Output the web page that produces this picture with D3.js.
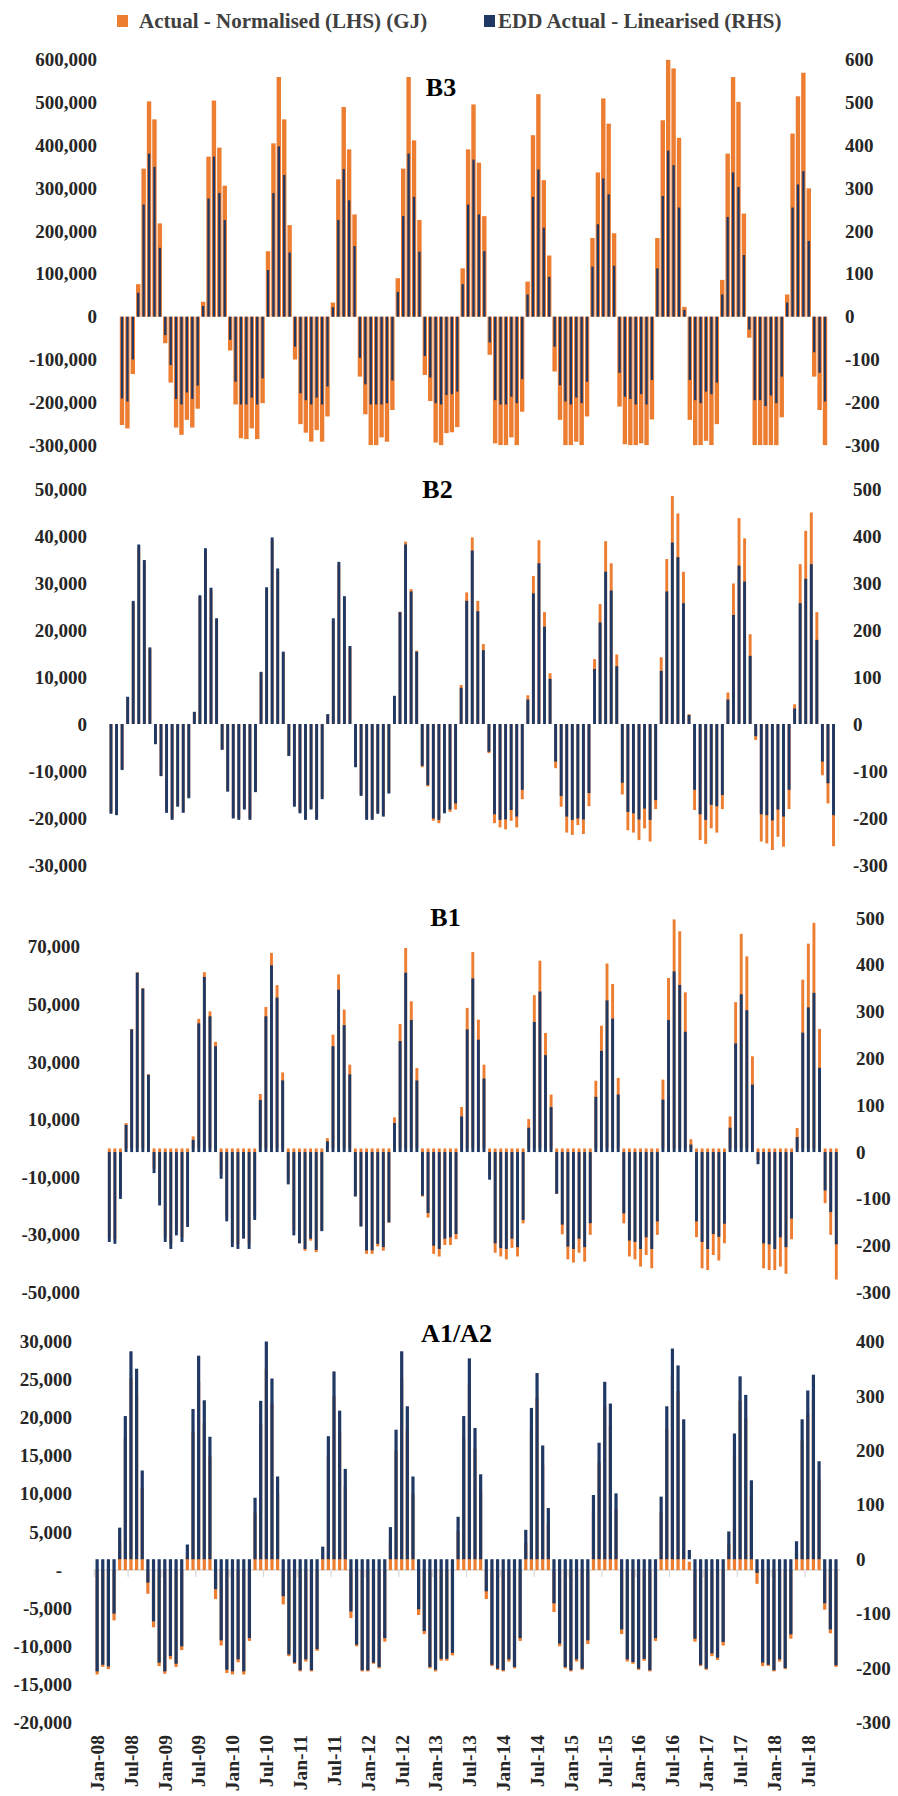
<!DOCTYPE html>
<html><head><meta charset="utf-8">
<script src="https://cdn.jsdelivr.net/npm/d3@7"></script>
<style>
body{margin:0;background:#fff}
svg text{font-family:"Liberation Serif","Times New Roman",serif;font-weight:bold}
</style>
</head><body>
<svg id="c" width="898" height="1796"></svg>
<script>
// ---------------- DATA ----------------
const seriesNames = ["Actual - Normalised (LHS) (GJ)", "EDD Actual - Linearised (RHS)"];
const panelTitles = ["B3", "B2", "B1", "A1/A2"];
const xTickLabels = ["Jan-08","Jul-08","Jan-09","Jul-09","Jan-10","Jul-10","Jan-11","Jul-11","Jan-12","Jul-12",
  "Jan-13","Jul-13","Jan-14","Jul-14","Jan-15","Jul-15","Jan-16","Jul-16","Jan-17","Jul-17","Jan-18","Jul-18"];

// B3 : Feb-08 .. Dec-18
const b3Navy = [
  -191,-198,-100,56,262,381,350,161,-43,-113,-192,
  -205,-177,-192,-161,25,276,374,289,226,-54,-152,-205,
  -205,-189,-205,-144,109,289,398,331,150,-70,-179,-195,
  -205,-189,-205,-163,22,226,345,272,165,-96,-158,-205,
  -205,-205,-202,-149,58,235,381,280,152,-92,-142,-202,
  -205,-183,-181,-175,76,262,367,239,153,-60,-195,-205,
  -205,-187,-202,-146,52,280,344,208,93,-70,-160,-198,
  -205,-189,-202,-152,117,216,323,286,119,-131,-187,-192,
  -205,-181,-205,-148,113,282,388,354,255,16,-148,-195,
  -202,-175,-181,-154,52,233,337,303,144,-30,-195,-195,
  -209,-184,-202,-140,33,255,309,340,177,-83,-131,-198];
const b3Orange = [
  -253000,-261000,-134000,76000,346000,503000,461000,218000,-62000,-154000,-259000,
  -276000,-241000,-259000,-215000,35000,374000,505000,395000,306000,-79000,-205000,-284000,
  -286000,-261000,-286000,-202000,153000,405000,560000,461000,214000,-100000,-251000,-271000,
  -292000,-265000,-292000,-233000,33000,321000,490000,391000,239000,-140000,-228000,-300000,
  -300000,-282000,-292000,-218000,90000,346000,560000,412000,226000,-136000,-197000,-294000,
  -300000,-272000,-270000,-258000,113000,391000,496000,360000,235000,-89000,-296000,-300000,
  -300000,-282000,-300000,-222000,82000,424000,520000,319000,143000,-128000,-241000,-300000,
  -300000,-292000,-300000,-233000,184000,337000,510000,451000,195000,-210000,-298000,-300000,
  -300000,-296000,-300000,-240000,184000,459000,600000,580000,418000,23000,-241000,-300000,
  -300000,-290000,-300000,-251000,86000,381000,560000,502000,241000,-49000,-300000,-300000,
  -300000,-300000,-300000,-235000,52000,428000,515000,570000,300000,-140000,-218000,-300000];

// B2 : Feb-08 .. Dec-18
const b2Navy = [
  -191,-194,-98,58,262,382,349,163,-43,-111,-189,
  -204,-176,-189,-158,26,274,374,290,225,-55,-144,-201,
  -204,-182,-204,-145,111,291,397,331,154,-68,-176,-190,
  -204,-182,-204,-160,21,225,345,272,166,-92,-153,-204,
  -204,-191,-197,-148,60,238,382,282,154,-89,-130,-201,
  -204,-190,-182,-169,77,262,369,240,157,-59,-192,-204,
  -203,-183,-197,-140,52,278,342,207,96,-80,-153,-197,
  -204,-201,-203,-147,117,216,324,284,123,-125,-187,-190,
  -203,-180,-204,-162,113,282,386,355,257,19,-140,-192,
  -204,-172,-175,-151,52,232,337,303,145,-26,-192,-194,
  -205,-182,-197,-140,33,257,309,340,179,-80,-126,-194];
const b2Orange = [
  -18800,-19000,-9600,5600,25800,37600,34400,16000,-4200,-10900,-18600,
  -20000,-17300,-18600,-15500,2500,27000,36800,28500,22100,-5400,-14200,-19800,
  -20000,-17900,-20000,-14300,10900,28600,39000,32500,15100,-6700,-17300,-18700,
  -20000,-17900,-20000,-15700,2000,22100,33900,26700,16300,-9000,-15000,-20000,
  -20000,-18800,-19300,-14500,5900,23900,38800,28700,15600,-9200,-13300,-20600,
  -21100,-18700,-18700,-18200,8300,28000,39700,26200,17000,-6200,-21100,-22000,
  -22400,-20600,-22000,-16000,6100,31500,39100,23800,10800,-9400,-17600,-23100,
  -23600,-21500,-23400,-17500,13800,25500,38900,34200,14800,-15000,-22600,-23100,
  -24700,-22200,-25000,-18100,14200,35100,48500,44800,32400,2100,-18300,-24700,
  -25500,-22200,-23100,-18100,6700,29900,43800,39500,19100,-3400,-25000,-25400,
  -26800,-24000,-26100,-18100,4200,34000,41100,45000,23800,-10900,-16900,-26000];

// B1 : Feb-08 .. Dec-18
const b1Navy = [
  -192,-196,-100,58,262,383,349,165,-45,-114,-192,
  -207,-178,-192,-160,26,275,374,290,226,-57,-148,-203,
  -207,-185,-207,-145,111,290,399,330,153,-69,-178,-195,
  -207,-185,-209,-169,23,226,347,271,166,-95,-159,-210,
  -210,-196,-203,-150,62,237,383,282,153,-93,-130,-200,
  -207,-185,-182,-175,76,262,371,240,157,-59,-195,-205,
  -207,-185,-203,-145,52,278,343,207,96,-89,-155,-202,
  -207,-185,-203,-152,118,216,324,285,123,-131,-189,-192,
  -207,-182,-207,-148,112,282,386,357,257,16,-148,-192,
  -207,-175,-181,-153,52,232,337,303,144,-26,-195,-197,
  -207,-182,-203,-142,32,255,309,340,180,-82,-128,-197];
const b1Orange = [
  -31000,-31500,-16000,8800,41500,61200,55700,25800,-7000,-18000,-30800,
  -33200,-28500,-30800,-25600,4200,45000,61200,47600,37000,-9000,-23700,-32500,
  -33200,-29600,-33200,-23200,18900,49100,67900,56700,26400,-11000,-28500,-32900,
  -35500,-32000,-36000,-28500,3600,39500,60400,48200,29100,-16500,-27000,-36600,
  -36600,-34000,-35500,-25800,10800,43200,69600,51100,27900,-16700,-24000,-36600,
  -37500,-33500,-33500,-31500,14400,48800,68200,44700,29100,-9500,-36200,-37500,
  -38500,-34500,-37500,-26000,10200,53200,65200,40100,18700,-15800,-29800,-38500,
  -39600,-36200,-39300,-30000,23500,42600,64200,57100,24500,-26000,-37500,-38500,
  -41000,-37000,-41600,-30000,23900,59200,79500,75400,54200,3200,-30800,-41600,
  -42200,-37000,-38900,-32900,11100,50800,74500,66700,32000,-4000,-41600,-42200,
  -42200,-41000,-43500,-31500,7100,58600,71100,78300,41500,-19000,-30000,-45500];

// A1/A2 : Jan-08 .. Dec-18
const a1Navy = [
  -206,-194,-197,-100,58,263,382,350,163,-43,-114,-190,
  -206,-178,-192,-160,27,276,374,292,225,-55,-149,-203,
  -206,-184,-206,-145,113,291,400,332,152,-68,-175,-190,
  -204,-184,-204,-165,23,226,345,273,166,-96,-157,-204,
  -204,-190,-198,-145,59,238,382,281,152,-92,-132,-198,
  -203,-183,-183,-172,78,263,369,241,156,-59,-194,-201,
  -204,-184,-198,-145,54,278,342,209,94,-81,-155,-198,
  -204,-184,-201,-149,118,214,326,286,121,-129,-184,-189,
  -201,-183,-204,-145,115,281,387,356,257,17,-146,-194,
  -201,-173,-181,-152,51,231,336,302,145,-25,-190,-194,
  -204,-184,-200,-138,33,257,310,339,180,-81,-129,-195];
const a1Orange = [
  -13700,-12700,-13000,-6600,3800,17300,25200,23100,10800,-3100,-7500,-12600,
  -13600,-11700,-12700,-10500,1800,18200,24700,19300,14900,-3800,-9900,-13500,
  -13700,-12100,-13700,-9300,7500,19200,26400,21900,10000,-4500,-11300,-12300,
  -13300,-12000,-13300,-10600,1500,14900,22800,18000,11000,-6300,-10000,-13300,
  -13300,-12300,-12900,-9400,3900,15700,25200,18500,10000,-5900,-8400,-12900,
  -13300,-11900,-11900,-11200,5100,17400,24400,15900,10300,-3800,-12600,-13100,
  -13300,-12000,-12900,-9300,3600,18300,22600,13800,6200,-5500,-10000,-12900,
  -13300,-12000,-13100,-9700,7800,14100,21500,18900,8000,-8400,-12000,-12300,
  -13100,-11900,-13300,-9300,7600,18500,25500,23500,17000,1100,-9400,-12600,
  -13100,-11300,-11800,-9900,3400,15200,22200,19900,9600,-1800,-12600,-12600,
  -13300,-12000,-13000,-9000,2200,17000,20500,22400,11900,-5200,-8300,-12700];

// axis ticks
const b3LeftTicks = [-300000,-200000,-100000,0,100000,200000,300000,400000,500000,600000];
const b3RightTicks = [-300,-200,-100,0,100,200,300,400,500,600];
const b2LeftTicks = [-30000,-20000,-10000,0,10000,20000,30000,40000,50000];
const b2RightTicks = [-300,-200,-100,0,100,200,300,400,500];
const b1LeftTicks = [-50000,-30000,-10000,10000,30000,50000,70000];
const b1RightTicks = [-300,-200,-100,0,100,200,300,400,500];
const a1LeftTicks = [-20000,-15000,-10000,-5000,0,5000,10000,15000,20000,25000,30000];
const a1RightTicks = [-300,-200,-100,0,100,200,300,400];
const b3LeftDomain = [-300000,600000], b3RightDomain = [-300,600];
const b2LeftDomain = [-30000,50000],   b2RightDomain = [-300,500];
const b1LeftDomain = [-50000,80000],   b1RightDomain = [-300,500];
const a1LeftDomain = [-20000,30000],   a1RightDomain = [-300,400];

// ---------------- LAYOUT ----------------
const ORANGE = "#ED7D31", NAVY = "#1F3864", TXT = "#262626";
const panels = [
  {title:panelTitles[0], navy:b3Navy, orange:b3Orange, lDom:b3LeftDomain, rDom:b3RightDomain, lTicks:b3LeftTicks, rTicks:b3RightTicks,
   x0:119.3, x1:827.7, yTop:59.9, yBot:445.1, lRight:97, rLeft:845, tx:441, ty:96, ow:4.4, nw:2.3},
  {title:panelTitles[1], navy:b2Navy, orange:b2Orange, lDom:b2LeftDomain, rDom:b2RightDomain, lTicks:b2LeftTicks, rTicks:b2RightTicks,
   x0:108.2, x1:836.3, yTop:489, yBot:865, lRight:87, rLeft:853, tx:437.5, ty:498, ow:2.9, nw:2.9},
  {title:panelTitles[2], navy:b1Navy, orange:b1Orange, lDom:b1LeftDomain, rDom:b1RightDomain, lTicks:b1LeftTicks, rTicks:b1RightTicks,
   x0:106.5, x1:839.1, yTop:918, yBot:1292.5, lRight:80, rLeft:856, tx:445.5, ty:926, ow:2.9, nw:2.9},
  {title:panelTitles[3], navy:a1Navy, orange:a1Orange, lDom:a1LeftDomain, rDom:a1RightDomain, lTicks:a1LeftTicks, rTicks:a1RightTicks,
   x0:94.3, x1:838.8, yTop:1341.5, yBot:1722.5, lRight:72, rLeft:856, tx:456.5, ty:1342, ow:3.2, nw:3.2, xAxis:true}
];

const svg = d3.select("#c");
const loc = d3.formatLocale({decimal:".", thousands:",", grouping:[3], currency:["",""], minus:"-"});
const fmt = loc.format(",");
const allMonths = d3.timeMonths(new Date(2008,0,1), new Date(2019,0,1));
const monthLabels = allMonths.map(d3.timeFormat("%b-%y"));

// legend
const legend = svg.append("g");
[[ORANGE,117,139,seriesNames[0]],[NAVY,484,498,seriesNames[1]]].forEach(([c,rx,tx,t])=>{
  legend.append("rect").attr("x",rx).attr("y",15).attr("width",11).attr("height",12).attr("fill",c);
  legend.append("text").attr("x",tx).attr("y",28).attr("font-size",21).attr("fill","#404040").text(t);
});

panels.forEach(p=>{
  const cats = monthLabels.slice(monthLabels.length - p.navy.length);
  const x = d3.scaleBand().domain(cats).range([p.x0,p.x1]);
  const bw = x.bandwidth();
  const yL = d3.scaleLinear().domain(p.lDom).range([p.yBot,p.yTop]).clamp(true);
  const yR = d3.scaleLinear().domain(p.rDom).range([p.yBot,p.yTop]).clamp(true);
  const g = svg.append("g");

  if (p.xAxis) {
    const y0 = yL(0);
    g.append("line").attr("x1",p.x0-1).attr("x2",p.x1+1).attr("y1",y0).attr("y2",y0)
      .attr("stroke","#d9d9d9").attr("stroke-width",1.5);
    g.selectAll("line.tk").data(xTickLabels).join("line").attr("class","tk")
      .attr("x1",d=>x(d)).attr("x2",d=>x(d)).attr("y1",y0).attr("y2",y0+7)
      .attr("stroke","#d9d9d9").attr("stroke-width",1.2);
    g.selectAll("text.xl").data(xTickLabels).join("text").attr("class","xl")
      .attr("transform",d=>`translate(${x(d)+bw/2},1735) rotate(-90)`)
      .attr("text-anchor","end").attr("dy","0.35em").attr("font-size",19.5).attr("fill",TXT).text(d=>d);
  }

  g.selectAll("rect.o").data(p.orange).join("rect").attr("class","o")
    .attr("x",(d,i)=>x(cats[i])+(bw-p.ow)/2).attr("width",p.ow)
    .attr("y",d=>Math.min(yL(d),yL(0))).attr("height",d=>Math.abs(yL(d)-yL(0)))
    .attr("fill",ORANGE);
  g.selectAll("rect.n").data(p.navy).join("rect").attr("class","n")
    .attr("x",(d,i)=>x(cats[i])+(bw-p.nw)/2).attr("width",p.nw)
    .attr("y",d=>Math.min(yR(d),yR(0))).attr("height",d=>Math.abs(yR(d)-yR(0)))
    .attr("fill",NAVY);

  const la = g.append("g").attr("transform",`translate(${p.lRight},0)`)
    .call(d3.axisLeft(yL).tickValues(p.lTicks).tickSize(0).tickPadding(0)
      .tickFormat(d => (p.xAxis && d===0) ? "-" : fmt(d)));
  la.select(".domain").remove();
  la.selectAll("text").attr("font-size",19).attr("fill",TXT)
    .attr("x",d => (p.xAxis && d===0) ? -10 : 0);
  la.attr("font-family",null).attr("font-size",null);

  const ra = g.append("g").attr("transform",`translate(${p.rLeft},0)`)
    .call(d3.axisRight(yR).tickValues(p.rTicks).tickSize(0).tickPadding(0).tickFormat(fmt));
  ra.select(".domain").remove();
  ra.selectAll("text").attr("font-size",19).attr("fill",TXT);
  ra.attr("font-family",null).attr("font-size",null);

  g.append("text").attr("x",p.tx).attr("y",p.ty).attr("text-anchor","middle")
    .attr("font-size",26).attr("fill","#000").text(p.title);
});
</script>
</body></html>
